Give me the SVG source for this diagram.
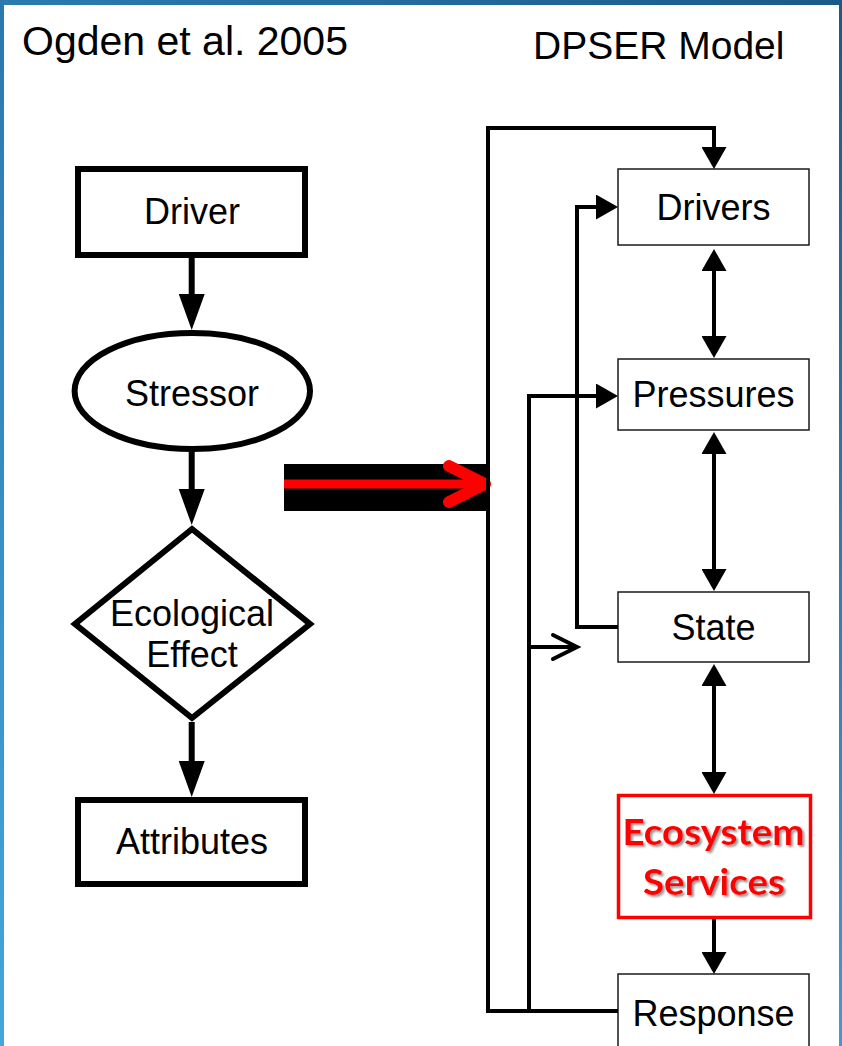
<svg xmlns="http://www.w3.org/2000/svg" width="842" height="1046" viewBox="0 0 842 1046">
  <defs>
    <linearGradient id="gTop" x1="0" y1="0" x2="1" y2="0">
      <stop offset="0" stop-color="#2b7bb1"/>
      <stop offset="1" stop-color="#1b5a88"/>
    </linearGradient>
    <linearGradient id="gSideL" x1="0" y1="0" x2="0" y2="1">
      <stop offset="0" stop-color="#2a78ad"/>
      <stop offset="1" stop-color="#43a6de"/>
    </linearGradient>
    <linearGradient id="gSideR" x1="0" y1="0" x2="0" y2="1">
      <stop offset="0" stop-color="#1b5a88"/>
      <stop offset="1" stop-color="#3d9bd4"/>
    </linearGradient>
    <marker id="big" viewBox="0 0 36 26" refX="0" refY="13" markerWidth="36" markerHeight="26" markerUnits="userSpaceOnUse" orient="auto-start-reverse">
      <path d="M0,0 L36,13 L0,26 Z" fill="#000"/>
    </marker>
    <marker id="tri" viewBox="0 0 22 25" refX="0" refY="12.5" markerWidth="22" markerHeight="25" markerUnits="userSpaceOnUse" orient="auto-start-reverse">
      <path d="M0,0 L22,12.5 L0,25 Z" fill="#000"/>
    </marker>
    <filter id="shadow" x="-10%" y="-20%" width="130%" height="150%">
      <feDropShadow dx="2" dy="2" stdDeviation="1" flood-color="#7a7a7a" flood-opacity="0.8"/>
    </filter>
    <style>
      .lbl { font-family: "Liberation Sans", Arial, sans-serif; font-size: 36px; fill: #000; text-anchor: middle; }
      .title { font-family: "Liberation Sans", Arial, sans-serif; fill: #000; }
      .thick { fill: #fff; stroke: #000; stroke-width: 6; }
      .thin { fill: #fff; stroke: #1a1a1a; stroke-width: 1.5; }
      .conn { fill: none; stroke: #000; stroke-width: 4; }
      .connL { fill: none; stroke: #000; stroke-width: 6; }
      .es { font-family: Lato, "Open Sans", sans-serif; font-weight: bold; font-size: 36px; fill: #ff0000; text-anchor: middle; }
    </style>
  </defs>

  <rect x="0" y="0" width="842" height="1046" fill="#fff"/>
  <g id="frame">
    <rect x="0" y="0" width="842" height="5" fill="url(#gTop)"/>
    <rect x="0" y="0" width="4" height="1046" fill="url(#gSideL)"/>
    <rect x="839" y="0" width="3" height="1046" fill="url(#gSideR)"/>
  </g>

  <g id="titles">
    <text class="title" x="22" y="55" font-size="41">Ogden et al. 2005</text>
    <text class="title" x="533" y="59" font-size="39">DPSER Model</text>
  </g>

  <g id="big-arrow">
    <rect x="284" y="464" width="203" height="47" fill="#000"/>
    <line x1="284" y1="484" x2="482" y2="484" stroke="#ff0000" stroke-width="9"/>
    <path d="M449,466 L485,484 L449,502" fill="none" stroke="#ff0000" stroke-width="12" stroke-linecap="round" stroke-linejoin="round"/>
  </g>

  <g id="driver">
    <rect class="thick" x="78" y="169" width="227" height="86"/>
    <text class="lbl" x="192" y="224">Driver</text>
  </g>
  <g id="stressor">
    <ellipse class="thick" cx="192.3" cy="391" rx="117.7" ry="58"/>
    <text class="lbl" x="192" y="406">Stressor</text>
  </g>
  <g id="effect">
    <polygon class="thick" points="192,529 310,624 192,718 75,624"/>
    <text class="lbl" x="192" y="626">Ecological</text>
    <text class="lbl" x="192" y="667">Effect</text>
  </g>
  <g id="attributes">
    <rect class="thick" x="78" y="800" width="227" height="84"/>
    <text class="lbl" x="192" y="854">Attributes</text>
  </g>

  <g id="drivers">
    <rect class="thin" x="618" y="169" width="191" height="76"/>
    <text class="lbl" x="713.5" y="220">Drivers</text>
  </g>
  <g id="pressures">
    <rect class="thin" x="618" y="359" width="191" height="71"/>
    <text class="lbl" x="713.5" y="407">Pressures</text>
  </g>
  <g id="state">
    <rect class="thin" x="618" y="592" width="191" height="70"/>
    <text class="lbl" x="713.5" y="640">State</text>
  </g>
  <g id="ecosystem-services">
    <rect x="618.5" y="795.5" width="192" height="122" fill="#fff" stroke="#ff0000" stroke-width="3.5"/>
    <g filter="url(#shadow)">
      <text class="es" x="713.5" y="845" textLength="182" lengthAdjust="spacingAndGlyphs">Ecosystem</text>
      <text class="es" x="714" y="895" textLength="142" lengthAdjust="spacingAndGlyphs">Services</text>
    </g>
  </g>
  <g id="response">
    <rect class="thin" x="618" y="974" width="191" height="80"/>
    <text class="lbl" x="713.5" y="1026">Response</text>
  </g>

  <g id="connectors">
    <line class="connL" x1="191.7" y1="258" x2="191.7" y2="294" marker-end="url(#big)"/>
    <line class="connL" x1="191.7" y1="452" x2="191.7" y2="489" marker-end="url(#big)"/>
    <line class="connL" x1="191.7" y1="722" x2="191.7" y2="761" marker-end="url(#big)"/>

    <line class="conn" x1="714" y1="271" x2="714" y2="336" stroke-width="5.5" marker-start="url(#tri)" marker-end="url(#tri)"/>
    <line class="conn" x1="714" y1="454" x2="714" y2="569" marker-start="url(#tri)" marker-end="url(#tri)"/>
    <line class="conn" x1="714" y1="686" x2="714" y2="772" marker-start="url(#tri)" marker-end="url(#tri)"/>
    <line class="conn" x1="714" y1="919" x2="714" y2="952" marker-end="url(#tri)"/>

    <path class="conn" d="M618,1011 H488 V128 H714 V147" marker-end="url(#tri)"/>
    <path class="conn" d="M529,1011 V396 H596" marker-end="url(#tri)"/>
    <path class="conn" d="M618,627 H577 V207 H596" marker-end="url(#tri)"/>
    <path class="conn" d="M529,647 H576"/>
    <path class="conn" d="M553,635 L577,647 L553,659" stroke-linecap="round" stroke-linejoin="miter"/>
  </g>
</svg>
